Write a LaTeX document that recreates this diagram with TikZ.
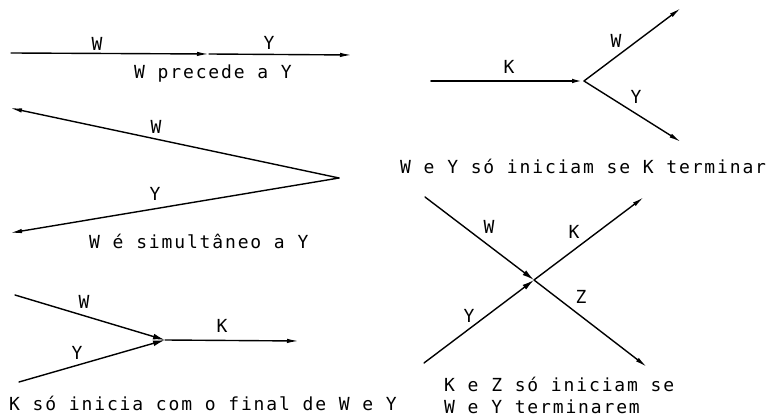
\documentclass[tikz,border=0pt]{standalone}
\usepackage{fontspec}
\setmainfont{DejaVu Sans Mono}[LetterSpace=10.3]
\newfontfamily\lblfont{DejaVu Sans Mono}
\usetikzlibrary{arrows.meta}
\begin{document}
\begin{tikzpicture}[x=1pt,y=-1pt,
  ln/.style={line width=1.4pt, line cap=round},
  arr/.style={ln,-{Latex[length=12pt,width=4.4pt]}},
  barr/.style={ln,-{Latex[length=12pt,width=5.8pt]}},
  lbl/.style={font=\lblfont\fontsize{18}{20}\selectfont, inner sep=0pt},
  captxt/.style={font=\fontsize{18}{22}\selectfont, inner sep=0pt, anchor=base west}]
\useasboundingbox (0,0) rectangle (782,419);
\fill[white] (0,0) rectangle (782,419);

% ---- 1: W precede a Y
\coordinate (a1) at (11,53);
\coordinate (a2) at (209,54);
\coordinate (a3) at (352,55);
\draw[arr] (a1) -- (a2);
\draw[arr] (a2) -- (a3);
\node[lbl] (aW) at (97,44) {W};
\node[lbl] (aY) at (269,43) {Y};
\node[captxt] (aC) at (134,78.5) {W precede a Y};

% ---- 2: W simultaneo a Y
\coordinate (b0) at (339,178);
\coordinate (b1) at (10,108);
\coordinate (b2) at (10,233);
\draw[arr] (b0) -- (b1);
\draw[arr] (b0) -- (b2);
\node[lbl] (bW) at (156,127) {W};
\node[lbl] (bY) at (155,194) {Y};
\node[captxt] (bC) at (89,248.5) {W é simultâneo a Y};

% ---- 3: K so inicia com o final de W e Y
\coordinate (c1) at (15,295);
\coordinate (c2) at (19,382);
\coordinate (c0) at (165,340);
\coordinate (c3) at (299,341);
\draw[barr] (c1) -- (c0);
\draw[barr] (c2) -- (c0);
\draw[arr] (c0) -- (c3);
\node[lbl] (cW) at (84,302) {W};
\node[lbl] (cY) at (77,353) {Y};
\node[lbl] (cK) at (222,326) {K};
\node[captxt] (cC) at (9,410.5) {K só inicia com o final de W e Y};

% ---- 4: W e Y so iniciam se K terminar
\coordinate (d1) at (431,81);
\coordinate (d0) at (584,81);
\coordinate (d2) at (681,8);
\coordinate (d3) at (681,142);
\draw[arr, line width=1.9pt] (d1) -- (d0);
\draw[arr] (d0) -- (d2);
\draw[arr] (d0) -- (d3);
\node[lbl] (dK) at (509,67) {K};
\node[lbl] (dW) at (616,41) {W};
\node[lbl] (dY) at (636,97) {Y};
\node[captxt] (dC) at (400,173.5) {W e Y só iniciam se K terminar};

% ---- 5: K e Z so iniciam se W e Y terminarem
\coordinate (e1) at (425,197);
\coordinate (e2) at (424,363);
\coordinate (e0) at (534,280);
\coordinate (e3) at (644,197);
\coordinate (e4) at (647,367);
\draw[barr] (e1) -- (e0);
\draw[barr] (e2) -- (e0);
\draw[arr] (e0) -- (e3);
\draw[arr] (e0) -- (e4);
\node[lbl] (eW) at (489,227) {W};
\node[lbl] (eK) at (574,232) {K};
\node[lbl] (eZ) at (581,297) {Z};
\node[lbl] (eY) at (469,316) {Y};
\node[captxt] (eC1) at (444,392) {K e Z só iniciam se};
\node[captxt] (eC2) at (444,414) {W e Y terminarem};
\end{tikzpicture}
\end{document}
